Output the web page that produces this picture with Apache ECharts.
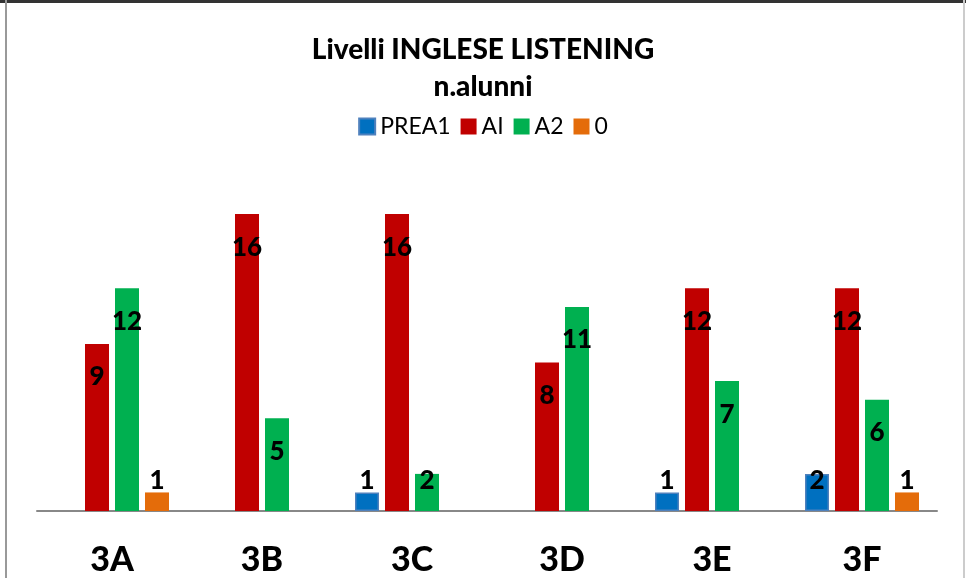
<!DOCTYPE html>
<html>
<head>
<meta charset="utf-8">
<script src="https://cdn.jsdelivr.net/npm/echarts@6/dist/echarts.min.js"></script>
<style>
  html, body { margin: 0; padding: 0; background: #fff; }
  #chart { width: 966px; height: 578px; }
</style>
</head>
<body>
<div id="chart"></div>
<script>
// dati del grafico
const classi = ['3A', '3B', '3C', '3D', '3E', '3F']
const prea1 = [null, null, 1, null, 1, 2]
const ai = [9, 16, 16, 8, 12, 12]
const a2 = [12, 5, 2, 11, 7, 6]
const zero = [1, null, null, null, null, 1]

const font = 'Lato, "Open Sans", sans-serif'

// etichetta dentro la barra, sopra la base se la barra e' bassa
const withLabels = (values) => values.map(v => {
  if (v == null) return null
  if (v <= 2) {
    return { value: v, label: { position: 'insideBottom', distance: 17 } }
  }
  return { value: v, label: { position: 'insideTop', distance: 20 } }
})

const makeSeries = (name, values, color, border) => ({
  name: name,
  type: 'bar',
  barWidth: 24,
  barGap: '25%',
  itemStyle: { color: color, borderColor: border || color, borderWidth: border ? 1.5 : 0 },
  label: {
    show: true,
    color: '#000',
    fontFamily: font,
    fontWeight: 900,
    fontSize: 26
  },
  data: withLabels(values)
})

const myChart = echarts.init(document.getElementById('chart'))
myChart.setOption({
  backgroundColor: '#fff',
  animation: false,
  title: {
    text: 'Livelli INGLESE LISTENING\nn.alunni',
    left: 'center',
    top: 26,
    textStyle: {
      fontFamily: font,
      fontWeight: 900,
      fontSize: 28,
      lineHeight: 37,
      color: '#000'
    }
  },
  legend: {
    top: 110,
    left: 'center',
    itemWidth: 16,
    itemHeight: 16,
    itemGap: 10,
    icon: 'rect',
    textStyle: { fontFamily: font, fontSize: 23, color: '#000' },
    data: ['PREA1', 'AI', 'A2', '0']
  },
  grid: {
    left: 37,
    right: 29,
    top: 177,
    bottom: 67
  },
  xAxis: {
    type: 'category',
    data: classi,
    axisTick: { show: false },
    axisLine: { lineStyle: { color: '#888', width: 2 } },
    axisLabel: {
      margin: 32,
      fontFamily: font,
      fontWeight: 900,
      fontSize: 34,
      color: '#000'
    }
  },
  yAxis: {
    type: 'value',
    min: 0,
    max: 18,
    interval: 2,
    show: false,
    splitLine: { show: false }
  },
  graphic: [
    { type: 'line', shape: { x1: 0, y1: 1.5, x2: 966, y2: 1.5 }, style: { stroke: '#333', lineWidth: 3 } },
    { type: 'line', shape: { x1: 6, y1: 0, x2: 6, y2: 578 }, style: { stroke: '#999', lineWidth: 2 } },
    { type: 'line', shape: { x1: 964, y1: 0, x2: 964, y2: 578 }, style: { stroke: '#ccc', lineWidth: 2 } }
  ],
  series: [
    makeSeries('PREA1', prea1, '#0070C0', '#4F81BD'),
    makeSeries('AI', ai, '#C00000'),
    makeSeries('A2', a2, '#00B050'),
    makeSeries('0', zero, '#E46C0A')
  ]
})
</script>
</body>
</html>
